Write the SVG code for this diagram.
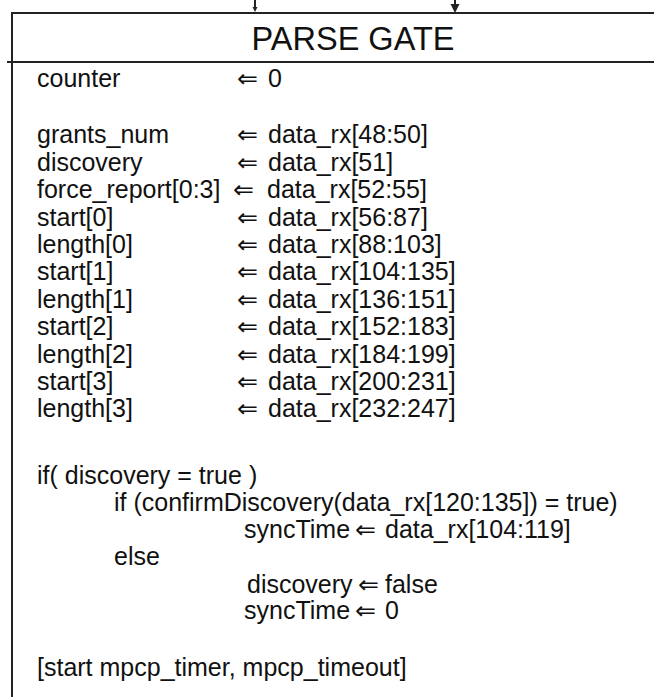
<svg xmlns="http://www.w3.org/2000/svg" width="654" height="697" viewBox="0 0 654 697">
<defs>
<style>
.t{font-family:"Liberation Sans",Arial,sans-serif;font-size:25px;fill:#111}
.ar{font-family:"DejaVu Sans","Liberation Sans",sans-serif;font-size:25px;fill:#111}
.title{font-family:"Liberation Sans",Arial,sans-serif;font-size:32.5px;fill:#111}
.ln{stroke:#222;stroke-width:2;fill:none}
</style>
</defs>
<rect width="654" height="697" fill="#fff"/>
<g id="connectors">
<line class="ln" x1="255" y1="0" x2="255" y2="7" stroke-width="1"/>
<polygon points="252.5,7 257.5,7 255,12" fill="#222"/>
<line class="ln" x1="455" y1="0" x2="455" y2="4"/>
<polygon points="450.5,4 459.5,4 455,13" fill="#222"/>
</g>
<g id="parse-gate">
<line class="ln" x1="11" y1="13" x2="654" y2="13"/>
<line class="ln" x1="12" y1="12" x2="12" y2="697"/>
<line class="ln" x1="7" y1="62" x2="654" y2="62"/>
<text class="title" x="353" y="50" text-anchor="middle">PARSE GATE</text>
<g id="body">
<text class="t" x="37" y="87">counter</text><text class="ar" x="237" y="87">⇐</text><text class="t" x="268" y="87">0</text>
<text class="t" x="37" y="143">grants_num</text><text class="ar" x="237" y="143">⇐</text><text class="t" x="268" y="143">data_rx[48:50]</text>
<text class="t" x="37" y="170.5">discovery</text><text class="ar" x="237" y="170.5">⇐</text><text class="t" x="268" y="170.5">data_rx[51]</text>
<text class="t" x="37" y="198">force_report[0:3]</text><text class="ar" x="233" y="198">⇐</text><text class="t" x="267" y="198">data_rx[52:55]</text>
<text class="t" x="37" y="225.5">start[0]</text><text class="ar" x="237" y="225.5">⇐</text><text class="t" x="268" y="225.5">data_rx[56:87]</text>
<text class="t" x="37" y="253">length[0]</text><text class="ar" x="237" y="253">⇐</text><text class="t" x="268" y="253">data_rx[88:103]</text>
<text class="t" x="37" y="280">start[1]</text><text class="ar" x="237" y="280">⇐</text><text class="t" x="268" y="280">data_rx[104:135]</text>
<text class="t" x="37" y="307.5">length[1]</text><text class="ar" x="237" y="307.5">⇐</text><text class="t" x="268" y="307.5">data_rx[136:151]</text>
<text class="t" x="37" y="335">start[2]</text><text class="ar" x="237" y="335">⇐</text><text class="t" x="268" y="335">data_rx[152:183]</text>
<text class="t" x="37" y="362.5">length[2]</text><text class="ar" x="237" y="362.5">⇐</text><text class="t" x="268" y="362.5">data_rx[184:199]</text>
<text class="t" x="37" y="390">start[3]</text><text class="ar" x="237" y="390">⇐</text><text class="t" x="268" y="390">data_rx[200:231]</text>
<text class="t" x="37" y="417">length[3]</text><text class="ar" x="237" y="417">⇐</text><text class="t" x="268" y="417">data_rx[232:247]</text>
<text class="t" x="37" y="484">if( discovery = true )</text>
<text class="t" x="114" y="511">if (confirmDiscovery(data_rx[120:135]) = true)</text>
<text class="t" x="244" y="538">syncTime</text><text class="ar" x="355" y="538">⇐</text><text class="t" x="385" y="538">data_rx[104:119]</text>
<text class="t" x="114" y="565">else</text>
<text class="t" x="247" y="593">discovery</text><text class="ar" x="358" y="593">⇐</text><text class="t" x="385" y="593">false</text>
<text class="t" x="244" y="619">syncTime</text><text class="ar" x="355" y="619">⇐</text><text class="t" x="385" y="619">0</text>
<text class="t" x="37" y="676">[start mpcp_timer, mpcp_timeout]</text>
</g>
</g>
</svg>
